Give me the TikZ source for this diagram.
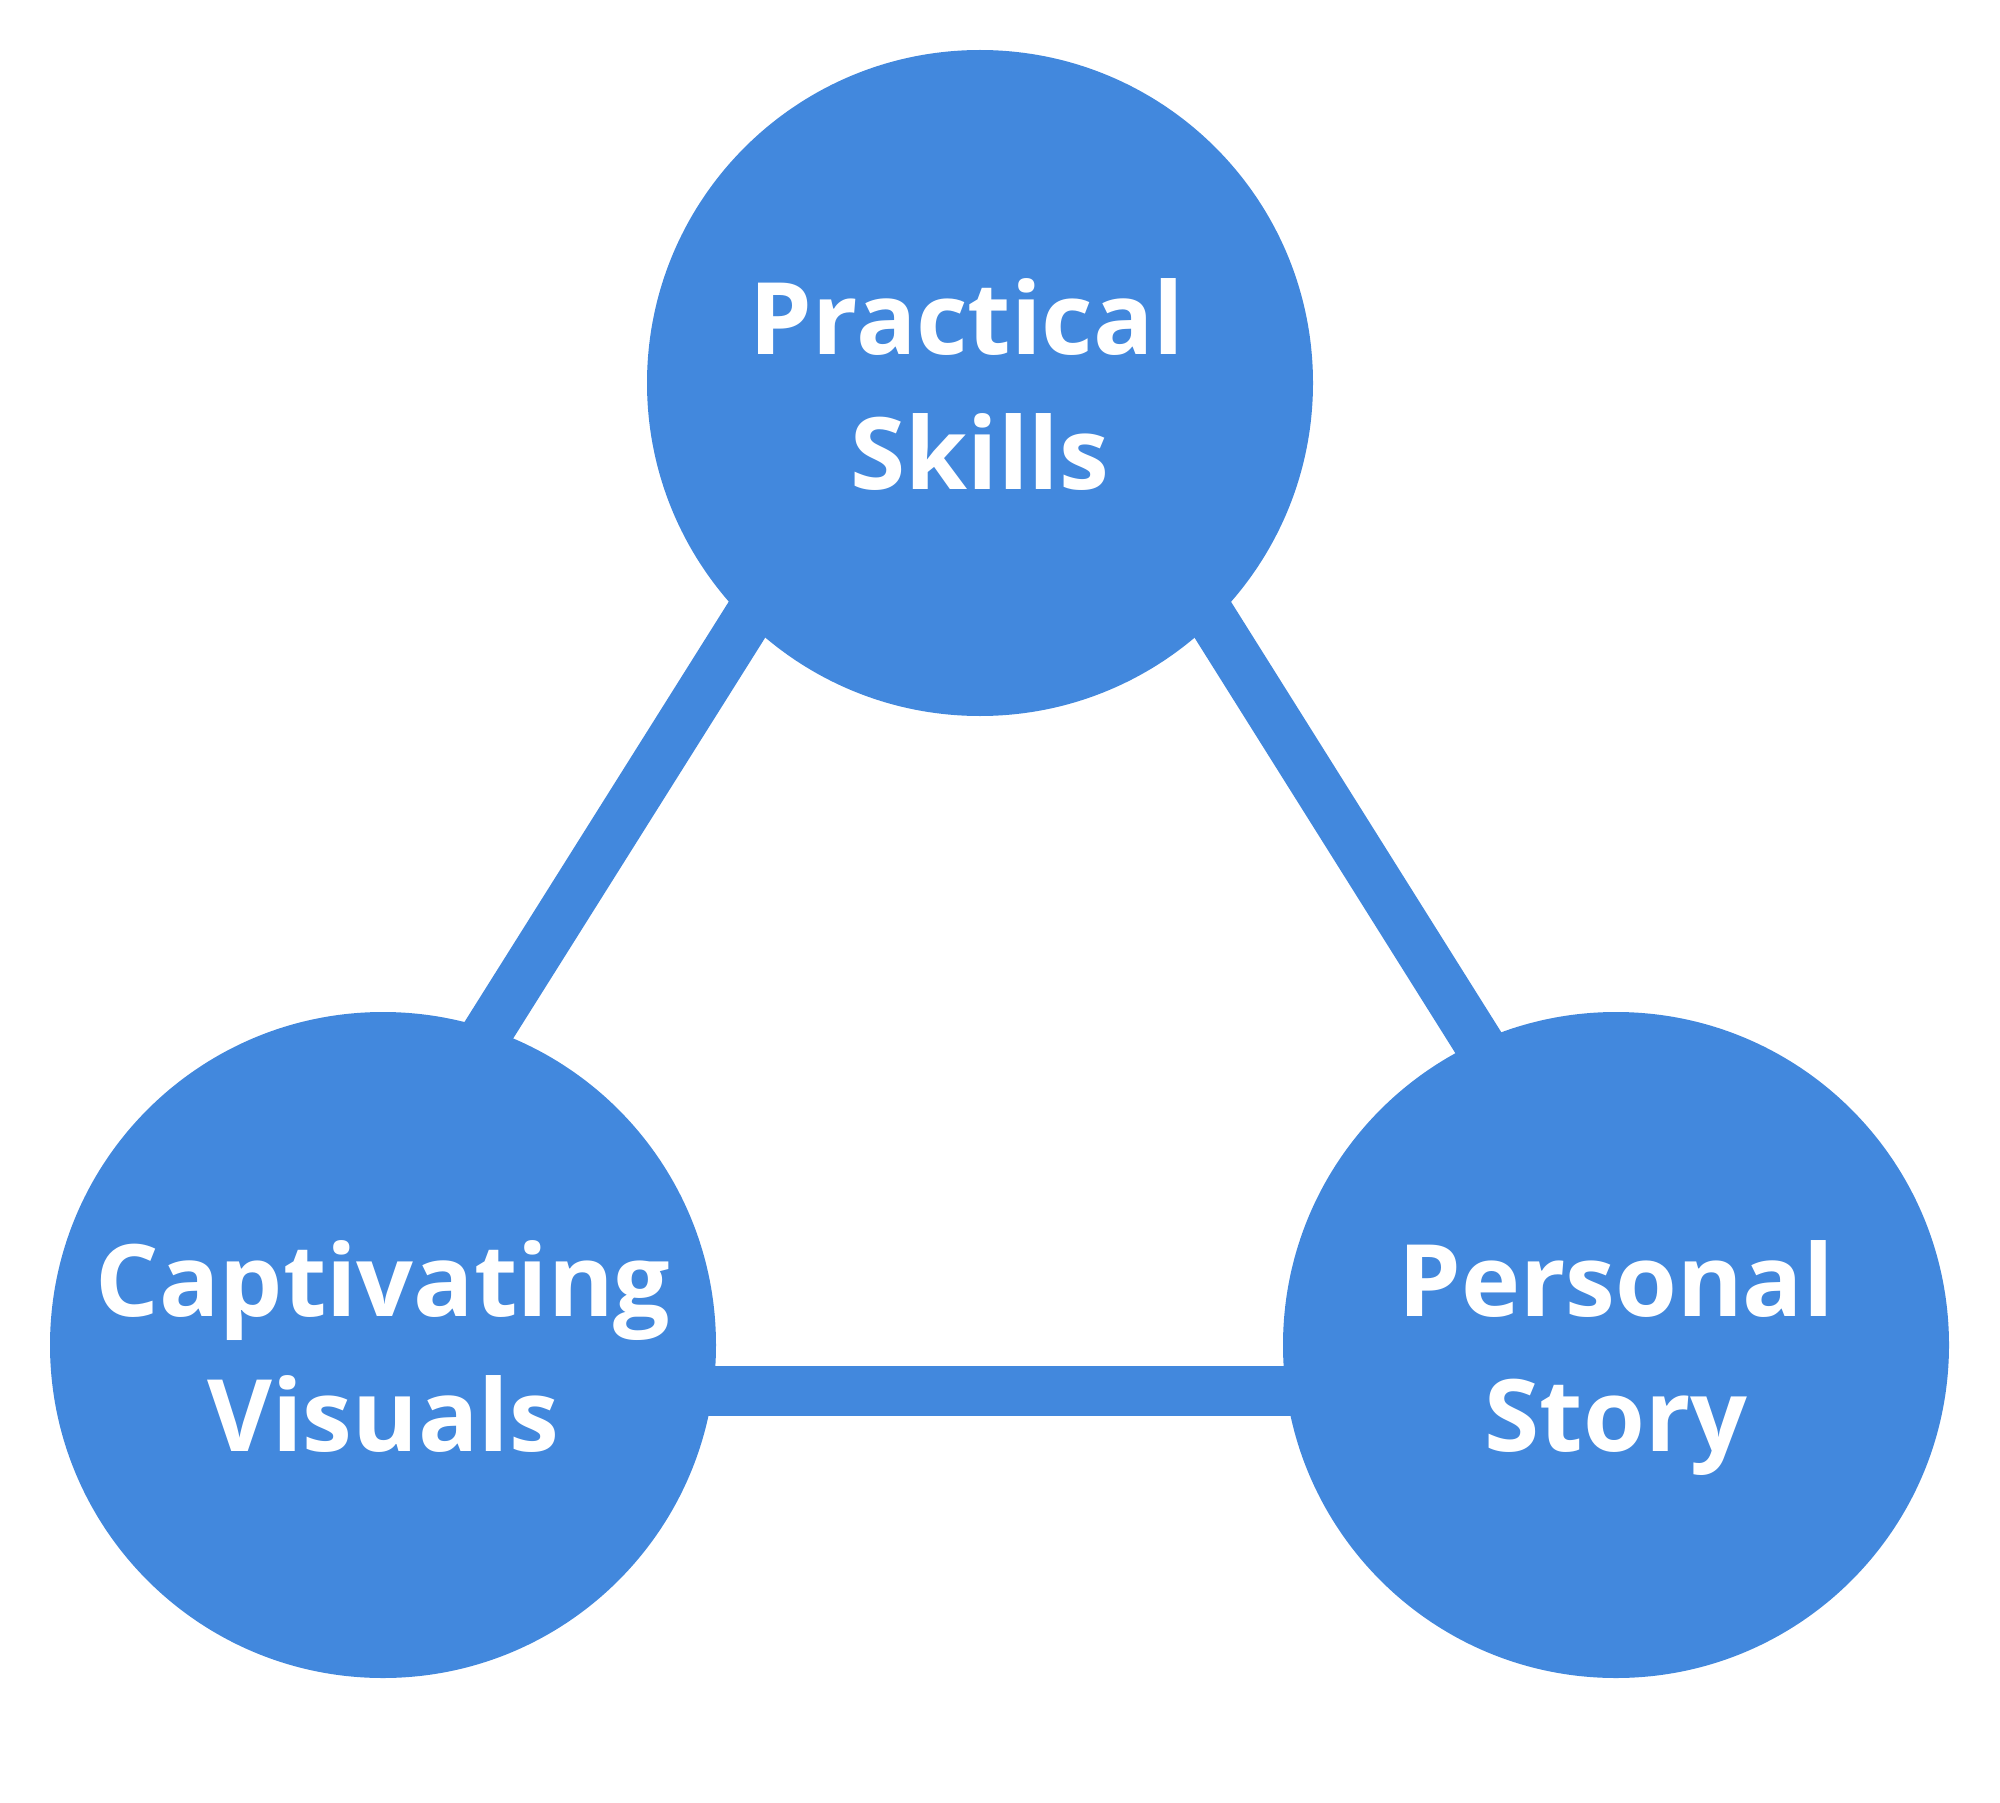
\documentclass[tikz,border=0pt]{standalone}
\usepackage{fontspec}
\setmainfont{Open Sans}
\definecolor{nodeblue}{RGB}{66,136,221}
\newcommand{\twolines}[2]{\raisebox{29pt}[0pt][0pt]{\begin{tabular}[t]{@{}c@{}}#1\\#2\end{tabular}}}
\tikzset{
  bubble/.style={circle, fill=nodeblue, draw=none, minimum size=666pt, inner sep=0pt,
    text=white, font=\fontsize{100}{135}\selectfont\bfseries},
  link/.style={draw=nodeblue, line width=50pt}
}
\begin{document}
\begin{tikzpicture}[x=1pt,y=-1pt]
\useasboundingbox (0,0) rectangle (2000,1803);
\coordinate (apex) at (980,249);
\coordinate (bl) at (262,1391);
\coordinate (br) at (1697,1391);
\draw[link] (apex) -- (bl);
\draw[link] (apex) -- (br);
\draw[link] (bl) -- (br);
\node[bubble] (ps) at (980,383) {\twolines{\mbox{Practical }}{Skills}};
\node[bubble] (cv) at (383,1345) {\twolines{Captivating}{Visuals}};
\node[bubble] (st) at (1616,1345) {\twolines{Personal}{Story}};
\end{tikzpicture}
\end{document}
